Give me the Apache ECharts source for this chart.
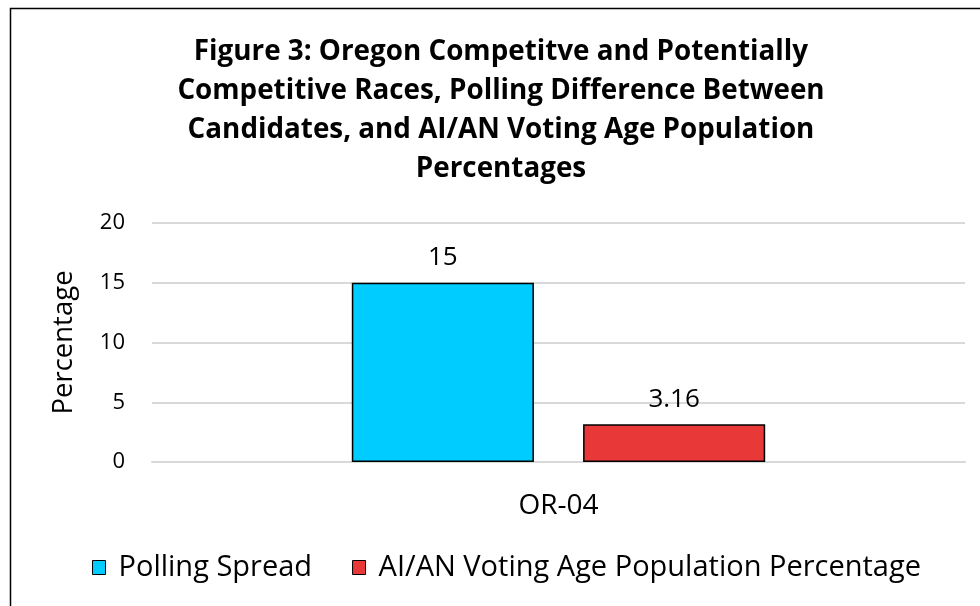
<!DOCTYPE html>
<html><head><meta charset="utf-8">
<script src="https://cdn.jsdelivr.net/npm/echarts@6/dist/echarts.min.js"></script>
<style>html,body{margin:0;padding:0;background:#fff}#c{width:980px;height:606px}</style>
</head><body><div id="c"></div>
<script>
const categories = ["OR-04"];
const pollingSpread = [15];
const aianVAP = [3.16];
const seriesNames = ["Polling Spread", "AI/AN Voting Age Population Percentage"];
const titleText = "Figure 3: Oregon Competitve and Potentially\nCompetitive Races, Polling Difference Between\nCandidates, and AI/AN Voting Age Population\nPercentages";
const FONT = "Open Sans";
const chart = echarts.init(document.getElementById('c'));
chart.setOption({
  animation: false,
  backgroundColor: '#fff',
  textStyle: { fontFamily: FONT },
  graphic: [{ type: 'rect', shape: { x: 10.5, y: 8.5, width: 1000, height: 700 }, style: { fill: 'none', stroke: '#000', lineWidth: 1.5 }, silent: true }],
  title: {
    text: titleText, left: 496, textAlign: 'center', top: 28,
    textStyle: { fontFamily: FONT, fontWeight: 'bold', fontSize: 27.8, lineHeight: 39, color: '#000' }
  },
  legend: {
    bottom: 19, left: 87, itemWidth: 13, itemHeight: 14, itemGap: 40,
    textStyle: { fontFamily: FONT, fontSize: 29, color: '#000', padding: [0, 0, 0, 8] },
    data: seriesNames.map(n => ({ name: n, icon: 'rect', itemStyle: { borderColor: '#000', borderWidth: 1 } }))
  },
  grid: { left: 152, right: 15, top: 223, bottom: 144, containLabel: false },
  xAxis: {
    type: 'category', data: categories,
    axisLine: { lineStyle: { color: '#d9d9d9', width: 2 } }, axisTick: { show: false },
    axisLabel: { fontFamily: FONT, fontSize: 28, color: '#000', margin: 30 }
  },
  yAxis: {
    type: 'value', min: 0, max: 20, interval: 5,
    name: 'Percentage', nameLocation: 'middle', nameGap: 74, nameRotate: 90,
    nameTextStyle: { fontFamily: FONT, fontSize: 27.5, color: '#000' },
    axisLine: { show: false }, axisTick: { show: false },
    axisLabel: { fontFamily: FONT, fontSize: 22, color: '#000', margin: 27 },
    splitLine: { lineStyle: { color: '#d9d9d9', width: 2 } }
  },
  series: [
    { name: seriesNames[0], type: 'bar', data: pollingSpread, barWidth: '22.4%', barGap: '27%',
      itemStyle: { color: '#00ccff', borderColor: '#000', borderWidth: 1.5 },
      label: { show: true, position: 'top', distance: 12, fontFamily: FONT, fontSize: 26, color: '#000' } },
    { name: seriesNames[1], type: 'bar', data: aianVAP, barWidth: '22.4%',
      itemStyle: { color: '#e83838', borderColor: '#000', borderWidth: 1.5 },
      label: { show: true, position: 'top', distance: 12, fontFamily: FONT, fontSize: 26, color: '#000' } }
  ]
});
</script></body></html>
